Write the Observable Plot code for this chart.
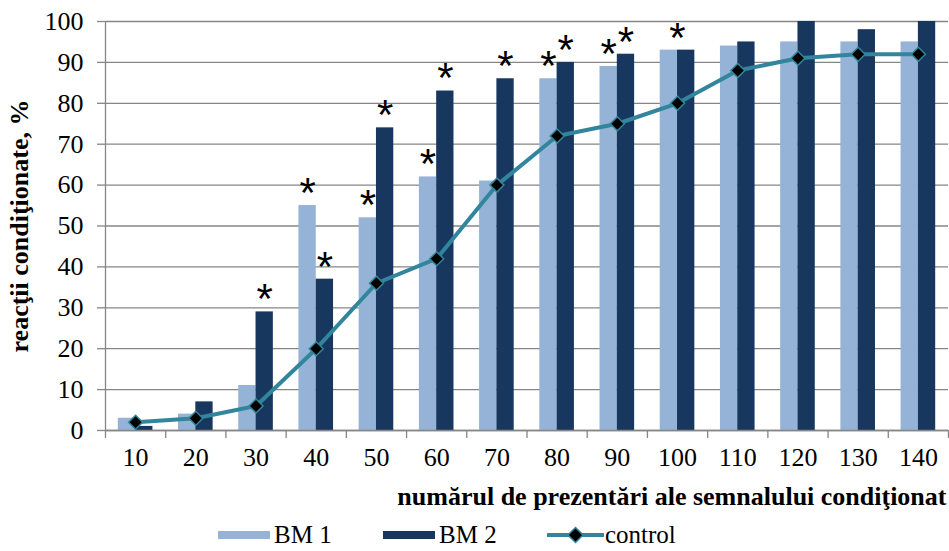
<!DOCTYPE html>
<html>
<head>
<meta charset="utf-8">
<script src="https://cdn.jsdelivr.net/npm/d3@7"></script>
<script src="https://cdn.jsdelivr.net/npm/@observablehq/plot@0.6"></script>
<style>
  body { margin: 0; background: #fff; }
  #chart svg { display: block; }
  g[aria-label="y-axis label"], g[aria-label="x-axis label"] { font-weight: bold; }
  .legend {
    position: relative; height: 35px; width: 949px;
    font-family: "Liberation Serif", "Times New Roman", serif; font-size: 25px; line-height: 22px; color: #000;
  }
  .legend .item { position: absolute; top: 8px; display: flex; align-items: center; height: 22px; }
  .legend .sw { display: inline-block; width: 52px; height: 8px; margin-right: 4px; }
  .legend svg { display: block; margin-right: 1px; }
</style>
</head>
<body>
<div id="chart"></div>
<div class="legend" id="legend"></div>
<script>
// Number of presentations of the conditioned signal
const presentations = [10, 20, 30, 40, 50, 60, 70, 80, 90, 100, 110, 120, 130, 140];
// Conditioned reactions, %
const bm1 = [3, 4, 11, 55, 52, 62, 61, 86, 89, 93, 94, 95, 95, 95];
const bm2 = [1, 7, 29, 37, 74, 83, 86, 90, 92, 93, 95, 100, 98, 100];
const control = [2, 3, 6, 20, 36, 42, 60, 72, 75, 80, 88, 91, 92, 92];
// Significant differences versus control (*)
const starsBM1 = [40, 50, 60, 80, 90];
const starsBM2 = [30, 40, 50, 60, 70, 80, 90];
const starsBoth = [100];
const yTicks = [0, 10, 20, 30, 40, 50, 60, 70, 80, 90, 100];
const seriesNames = ["BM 1", "BM 2", "control"];

const colorBM1 = "#95B3D7";
const colorBM2 = "#17375E";
const colorControl = "#31859C";
const gridColor = "#868686";
const serif = "'Liberation Serif', 'Times New Roman', serif";

const rows = presentations.map((n, i) => ({n, bm1: bm1[i], bm2: bm2[i], control: control[i]}));
const valueAt = (n, key) => rows.find(r => r.n === n)[key];
const bounds = presentations.map(n => n - 5).concat([presentations[presentations.length - 1] + 5]);

const starStyle = {
  text: () => "*", fontFamily: "'Liberation Sans', Arial, sans-serif", fontSize: 42,
  fill: "#000", lineAnchor: "middle", dy: -12
};

const chart = Plot.plot({
  width: 949,
  height: 516,
  marginTop: 21,
  marginRight: 1,
  marginBottom: 86,
  marginLeft: 105,
  style: {fontFamily: serif, fontSize: "26px", color: "#000", background: "#fff"},
  x: {type: "linear", domain: [bounds[0], bounds[bounds.length - 1]]},
  y: {domain: [0, 100]},
  marks: [
    Plot.gridY(yTicks, {stroke: gridColor, strokeOpacity: 1, strokeWidth: 1.3}),
    Plot.axisY(yTicks, {
      tickSize: 8, tickPadding: 14, stroke: gridColor, strokeWidth: 1.3, fontSize: 26, fontFamily: serif,
      label: "reacţii condiţionate, %", labelAnchor: "center", labelOffset: 96, labelArrow: "none"
    }),
    Plot.axisX(presentations, {
      tickSize: 0, tickPadding: 17, fontSize: 26, fontFamily: serif,
      label: "numărul de prezentări ale semnalului condiţionat", labelAnchor: "right", labelOffset: 74, labelArrow: "none"
    }),
    Plot.axisX(bounds, {tickSize: 8, stroke: gridColor, strokeWidth: 1.3, tickFormat: () => "", label: null}),
    Plot.rectY(rows, {x1: d => d.n - 5, x2: d => d.n + 5, y1: 0, y2: "bm1", fill: colorBM1, insetLeft: 12.8, insetRight: 30.1}),
    Plot.rectY(rows, {x1: d => d.n - 5, x2: d => d.n + 5, y1: 0, y2: "bm2", fill: colorBM2, insetLeft: 30.1, insetRight: 12.8}),
    Plot.ruleX([bounds[0]], {stroke: gridColor, strokeWidth: 1.3}),
    Plot.ruleY([0], {stroke: gridColor, strokeWidth: 1.3}),
    Plot.line(rows, {x: "n", y: "control", stroke: colorControl, strokeWidth: 4, strokeLinejoin: "round"}),
    Plot.dot(rows, {x: "n", y: "control", symbol: "diamond2", r: 6.3, fill: "#000", stroke: colorControl, strokeWidth: 1.5}),
    Plot.text(starsBM1, {...starStyle, x: n => n, y: n => valueAt(n, "bm1"), dx: -8.65}),
    Plot.text(starsBM2, {...starStyle, x: n => n, y: n => valueAt(n, "bm2"), dx: 8.65}),
    Plot.text(starsBoth, {...starStyle, x: n => n, y: n => Math.max(valueAt(n, "bm1"), valueAt(n, "bm2"))})
  ]
});
document.getElementById("chart").append(chart);

// Legend below the chart
const legend = document.getElementById("legend");
const lefts = [218, 383, 547];
seriesNames.forEach((name, i) => {
  const item = document.createElement("span");
  item.className = "item";
  item.style.left = lefts[i] + "px";
  if (i < 2) {
    const sw = document.createElement("span");
    sw.className = "sw";
    sw.style.background = i === 0 ? colorBM1 : colorBM2;
    item.append(sw);
  } else {
    const ns = "http://www.w3.org/2000/svg";
    const svg = document.createElementNS(ns, "svg");
    svg.setAttribute("width", 57);
    svg.setAttribute("height", 20);
    const ln = document.createElementNS(ns, "line");
    ln.setAttribute("x1", 1); ln.setAttribute("x2", 56); ln.setAttribute("y1", 10); ln.setAttribute("y2", 10);
    ln.setAttribute("stroke", colorControl); ln.setAttribute("stroke-width", 4); ln.setAttribute("stroke-linecap", "round");
    const dm = document.createElementNS(ns, "path");
    dm.setAttribute("d", "M28.5,2.5L36,10L28.5,17.5L21,10Z");
    dm.setAttribute("fill", "#000"); dm.setAttribute("stroke", colorControl); dm.setAttribute("stroke-width", 1.5);
    svg.append(ln, dm);
    item.append(svg);
  }
  item.append(document.createTextNode(name));
  legend.append(item);
});
</script>
</body>
</html>
